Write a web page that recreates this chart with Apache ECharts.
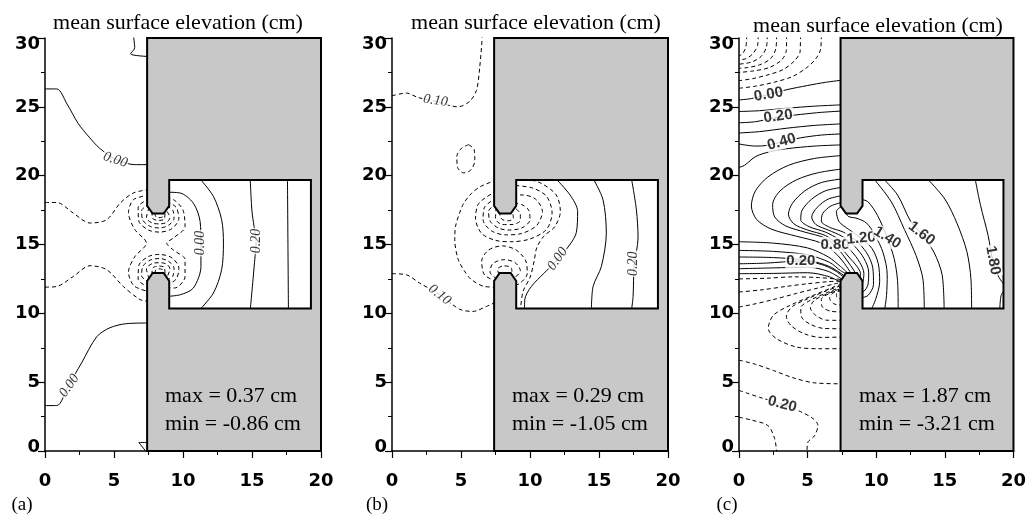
<!DOCTYPE html>
<html>
<head>
<meta charset="utf-8">
<script src="https://cdn.jsdelivr.net/npm/echarts/dist/echarts.min.js"></script>
<style>
html,body{margin:0;padding:0;background:#fff}
#chart{width:1029px;height:516px}
</style>
</head>
<body>
<div id="chart"></div>
<script>
// ---------- axes ----------
const X_TICKS = [0, 5, 10, 15, 20];
const Y_TICKS = [0, 5, 10, 15, 20, 25, 30];

// ---------- breakwater / harbour geometry (x, y in same units as axes) ----------
const STRUCTURE = [
  [7.4, 0], [20, 0], [20, 30], [7.4, 30], [7.4, 17.8], [7.8, 17.25], [8.6, 17.25], [9.0, 17.8],
  [9.0, 19.68], [19.27, 19.68], [19.27, 10.36], [9.0, 10.36], [9.0, 12.35], [8.6, 12.93],
  [7.8, 12.93], [7.4, 12.35]
];

// ---------- panel (a) ----------
const A_SOLID = [
  [[0,26.3],[0.85,26.3],[1.6,25.2],[2.4,23.8],[3.2,22.8],[3.95,22.0],[5.1,21.2],[6.5,20.8],[7.6,20.8]],
  [[6.4,30.2],[6.5,29.3],[6.2,28.85],[7.6,28.65]],
  [[7.6,9.3],[5.9,9.25],[4.7,8.95],[3.75,8.3],[2.65,6.4],[1.7,4.75],[0.85,3.3],[0,3.3]],
  [[7.6,0.62],[6.8,0.62],[7.45,-0.2]],
  [[8.8,18.8],[9.8,18.74],[10.75,18.0],[11.24,16.67],[11.3,15.1],[11.3,13.4],[10.75,11.84],[9.8,11.35],[8.8,11.23]],
  [[11.2,19.8],[12.2,18.5],[12.8,16.8],[12.93,15.1],[12.8,13.17],[12.2,11.47],[11.15,10.2]],
  [[14.87,19.8],[14.99,17.5],[15.15,16.3],[15.3,15.2],[15.2,13.9],[14.87,10.2]],
  [[17.57,19.8],[17.64,10.2]]
];
const A_DASHED = [
  [[0,18.05],[0.85,18.05],[2.05,17.28],[3.26,16.56],[4.47,16.8],[5.44,18.0],[6.4,18.74],[7.6,19.0]],
  [[0,11.9],[0.85,11.95],[2.05,12.68],[3.26,13.46],[4.47,13.17],[5.68,11.95],[6.89,11.0],[7.6,10.85]],
  [[7.6,18.6],[6.4,18.25],[6.05,17.3],[6.5,16.1],[7.35,15.1],[6.5,14.1],[6.05,13.0],[6.45,12.0],[7.6,11.55]],
  [[8.8,18.4],[9.4,18.2],[10.0,17.5],[10.15,16.3],[9.3,15.47],[8.82,15.1],[9.3,14.6],[10.15,13.9],[10.15,12.68],[9.4,11.84],[8.8,11.85]],
  [[7.6,18.35],[6.75,17.7],[6.8,16.7],[7.5,16.05],[8.3,15.9],[9.2,16.15],[9.7,16.9],[9.5,17.7],[8.8,18.15]],
  [[7.6,17.95],[7.0,17.45],[7.1,16.75],[7.65,16.3],[8.3,16.2],[8.95,16.4],[9.35,16.9],[9.25,17.5],[8.8,17.8]],
  [[7.55,17.7],[7.35,16.95],[7.8,16.55],[8.3,16.5],[8.8,16.6],[9.05,16.95],[8.75,17.55]],
  [[7.75,17.4],[7.8,16.9],[8.25,16.75],[8.65,16.85],[8.7,17.45]],
  [[7.95,17.3],[8.05,17.0],[8.35,16.95],[8.55,17.05],[8.55,17.3]],
  [[7.6,11.85],[6.75,12.48],[6.8,13.48],[7.5,14.13],[8.3,14.28],[9.2,14.03],[9.7,13.28],[9.5,12.48],[8.8,12.05]],
  [[7.6,12.25],[7.0,12.73],[7.1,13.43],[7.65,13.88],[8.3,13.98],[8.95,13.78],[9.35,13.28],[9.25,12.68],[8.8,12.4]],
  [[7.55,12.5],[7.35,13.23],[7.8,13.63],[8.3,13.68],[8.8,13.58],[9.05,13.23],[8.8,12.55]],
  [[7.75,12.8],[7.8,13.28],[8.25,13.43],[8.65,13.33],[8.7,12.7]],
  [[7.95,12.88],[8.05,13.18],[8.35,13.23],[8.55,13.13],[8.55,12.88]]
];
// contour labels: x, y, text, angle
const A_LABELS = [
  [5.1, 21.15, '0.00', -18],
  [11.25, 15.1, '0.00', 90],
  [15.3, 15.25, '0.20', 90],
  [1.75, 4.75, '0.00', 55]
];
const A_STATS = ['max = 0.37 cm', 'min = -0.86 cm'];

// ---------- panel (b) ----------
const B_SOLID = [
  [[11.85,19.8],[12.9,18.6],[13.45,17.4],[13.35,15.85],[12.6,14.6],[11.9,13.8],[11.0,12.9],[10.1,11.95],[9.62,11.0],[9.6,10.2]],
  [[14.57,19.8],[15.29,18.25],[15.53,15.83],[15.17,13.4],[14.57,11.95],[14.45,10.2]],
  [[17.35,19.8],[17.71,17.52],[17.83,15.47],[17.55,13.5],[17.47,11.23],[17.35,10.2]]
];
const B_DASHED = [
  [[0,25.8],[1.04,26.0],[1.88,25.68],[3.1,25.4],[4.78,25.0],[5.63,25.4],[6.12,26.2],[6.36,27.9],[6.55,30.2]],
  [[5.55,22.25],[5.95,21.9],[6.0,21.1],[5.7,20.4],[5.2,20.2],[4.75,20.6],[4.7,21.4],[5.05,22.0],[5.55,22.25]],
  [[0,12.88],[1.04,12.8],[2.0,12.2],[3.46,11.35],[4.9,10.3],[5.87,10.14],[6.84,10.5],[7.6,10.85]],
  [[7.6,19.7],[6.4,19.2],[5.75,18.7],[5.2,18.0],[4.9,17.3],[4.6,16.3],[4.55,15.35],[4.8,13.9],[5.3,13.0],[5.75,12.45],[6.7,11.95],[7.6,11.9]],
  [[7.6,18.9],[6.3,18.0],[6.05,16.9],[6.5,15.8],[7.5,15.3],[8.6,15.2],[10.0,15.4],[11.2,16.1],[11.6,17.3],[11.2,18.5],[10.2,19.1],[8.8,19.3]],
  [[7.6,18.4],[6.7,17.7],[6.6,16.8],[7.2,16.0],[8.2,15.7],[9.4,15.8],[10.5,16.4],[10.9,17.4],[10.4,18.3],[9.5,18.6],[8.8,18.6]],
  [[7.6,18.0],[7.0,17.4],[7.1,16.7],[7.7,16.2],[8.4,16.05],[9.4,16.2],[10.0,16.8],[9.9,17.5],[9.4,17.9],[8.8,18.0]],
  [[7.55,17.7],[7.5,16.9],[8.0,16.45],[8.7,16.45],[9.3,16.75],[9.3,17.2],[8.85,17.7]],
  [[7.75,17.4],[7.95,16.85],[8.4,16.72],[8.8,16.9],[8.72,17.45]],
  [[9.6,19.8],[10.8,19.45],[11.9,18.6],[12.2,17.4],[11.8,16.3],[11.0,15.6],[10.5,14.8],[10.3,13.8],[10.0,12.6],[9.5,11.6],[9.3,10.2]],
  [[7.6,12.3],[6.7,12.8],[6.5,13.8],[7.0,14.6],[8.0,14.9],[9.0,14.6],[9.7,13.8],[9.8,12.9],[9.3,12.2],[8.8,12.0]],
  [[7.6,12.5],[7.1,13.0],[7.3,13.6],[8.1,13.9],[8.9,13.7],[9.3,13.1],[8.8,12.5]],
  [[7.75,12.8],[7.65,13.2],[8.1,13.45],[8.65,13.3],[8.7,12.7]]
];
const B_LABELS = [
  [3.15, 25.45, '0.10', -8],
  [3.45, 11.35, '0.10', -38],
  [12.0, 13.95, '0.00', 55],
  [17.5, 13.6, '0.20', 90]
];
const B_STATS = ['max = 0.29 cm', 'min = -1.05 cm'];

// ---------- panel (c) ----------
const C_SOLID = [
  [[0,25.5],[0.9,25.6],[2.15,25.9],[3.5,26.25],[5.0,26.55],[6.3,26.78],[7.6,26.95]],
  [[0,24.66],[1.5,24.72],[3.5,24.9],[5.5,25.05],[7.6,25.15]],
  [[0,23.84],[1.2,23.92],[2.85,24.25],[4.5,24.45],[6.0,24.6],[7.6,24.7]],
  [[0,23.1],[1.5,23.2],[3.5,23.45],[5.5,23.65],[7.6,23.77]],
  [[0,22.3],[1.2,22.15],[2.1,22.2],[3.1,22.45],[4.5,22.75],[6.0,22.95],[7.6,23.04]],
  [[0,20.6],[0.4,20.75],[1.23,21.4],[2.3,21.75],[3.41,21.95],[5.5,22.15],[7.6,22.24]],
  [[0,12.88],[2.5,12.9],[5,12.95],[6.6,12.65],[7.5,12.2]],
  [[0,13.24],[2.5,13.3],[5,13.35],[6.5,13.05],[7.55,12.45]],
  [[0,13.6],[2.0,13.65],[4.5,13.8],[6.0,13.55],[7.0,13.1],[7.65,12.6]],
  [[0,14.09],[2.5,14.05],[5,13.85],[6.6,13.4],[7.7,12.7]],
  [[0,14.57],[2.5,14.5],[5,14.25],[6.6,13.7],[7.4,13.1],[7.85,12.85]],
  [[0,15.2],[2.5,15.1],[5,14.75],[6.5,14.1],[7.4,13.4],[8.0,12.85]],
  [[7.6,21.47],[5.5,21.25],[3.6,20.75],[2.1,19.9],[1.2,18.9],[0.9,17.8],[1.3,16.8],[2.4,16.1],[4.2,15.6],[6.0,15.1],[7.0,14.4],[7.7,13.6],[8.2,12.85]],
  [[7.6,20.5],[5.7,20.2],[4.2,19.7],[3.0,18.9],[2.45,17.9],[2.6,17.0],[3.4,16.35],[4.8,15.9],[6.3,15.45],[7.2,14.7],[7.9,13.8],[8.35,13.15],[8.5,12.85]],
  [[7.6,19.78],[6.0,19.5],[4.8,18.9],[3.9,18.0],[3.6,17.2],[4.0,16.5],[5.0,16.05],[6.3,15.65],[7.2,15.0],[8.0,14.1],[8.6,13.4],[8.85,12.9],[8.8,12.5]],
  [[7.6,19.17],[6.3,18.9],[5.3,18.3],[4.6,17.5],[4.5,16.8],[5.1,16.3],[6.3,15.9],[7.3,15.35],[8.2,14.5],[8.8,13.7],[9.1,12.9],[9.0,12.2],[8.8,12.1]],
  [[7.6,18.56],[6.5,18.3],[5.7,17.7],[5.3,17.0],[5.6,16.45],[6.5,16.05],[7.5,15.6],[8.4,14.9],[9.1,14.0],[9.45,13.0],[9.4,12.1],[9.1,11.6],[8.8,11.55]],
  [[7.6,18.08],[6.7,17.8],[6.1,17.25],[6.0,16.7],[6.6,16.25],[7.6,15.9],[8.5,15.3],[9.3,14.4],[9.75,13.3],[9.8,12.1],[9.4,11.3],[8.8,11.1]],
  [[7.6,17.85],[7.1,17.4],[7.3,16.65],[8.0,16.1],[8.9,15.45],[9.7,14.7],[10.15,13.6],[10.25,12.3],[9.95,11.0],[9.6,10.2]],
  [[7.75,17.5],[7.95,17.05],[8.6,16.9],[9.3,16.55],[9.9,15.7],[10.5,14.4],[10.8,12.8],[10.75,11.3],[10.6,10.2]],
  [[8.85,18.3],[9.4,18.1],[10.1,17.1],[10.8,15.5],[11.3,14.0],[11.55,12.4],[11.6,10.2]],
  [[9.8,19.8],[11.1,18.1],[12.05,16.1],[12.9,14.2],[13.4,12.5],[13.5,10.2]],
  [[10.5,19.8],[11.55,18.6],[12.5,16.7],[13.3,15.75],[14.2,14.45],[14.8,12.8],[14.95,10.2]],
  [[13.7,19.8],[15.0,18.3],[15.9,16.5],[16.6,14.5],[16.9,12.5],[16.95,10.2]],
  [[17.2,19.8],[17.6,17.84],[18.15,15.66],[18.5,13.8],[18.95,12.6],[19.4,12.0]],
  [[19.4,11.75],[19.1,11.3],[19.0,10.2]]
];
const C_DASHED = [
  [[6.0,30.2],[5.95,29.2],[5.6,28.5],[5.0,27.9],[3.9,27.2],[2.6,26.8],[1.2,26.5],[0,26.35]],
  [[4.48,30.2],[4.45,29.0],[4.0,28.3],[3.2,27.7],[2.2,27.35],[1.0,27.05],[0,26.9]],
  [[3.47,30.2],[3.45,29.1],[3.1,28.4],[2.2,27.85],[1.0,27.6],[0,27.5]],
  [[2.74,30.2],[2.7,29.3],[2.3,28.5],[1.5,28.05],[0.6,27.85],[0,27.8]],
  [[2.06,30.2],[2.0,29.35],[1.6,28.65],[0.9,28.25],[0,28.1]],
  [[1.4,30.2],[1.35,29.45],[1.0,28.85],[0.5,28.5],[0,28.4]],
  [[0.56,30.2],[0.5,29.35],[0.25,28.85],[0,28.7]],
  [[0,12.5],[2.0,12.55],[4.0,12.65],[5.8,12.6],[7.0,12.5],[7.6,12.45]],
  [[0,11.55],[1.6,11.7],[3.4,11.95],[5.0,12.15],[6.5,12.3],[7.55,12.35]],
  [[0,10.46],[1.0,10.65],[2.5,11.0],[4.2,11.45],[5.8,11.85],[7.0,12.15],[7.55,12.25]],
  [[7.6,7.43],[5.9,7.43],[4.2,7.55],[2.75,8.15],[2.13,8.9],[2.5,9.85],[3.7,10.57],[5.4,11.3],[7.0,11.95],[7.55,12.15]],
  [[7.6,8.28],[6.0,8.25],[4.8,8.5],[3.8,9.1],[3.45,9.8],[3.9,10.5],[5.0,11.05],[6.4,11.65],[7.55,12.05]],
  [[7.6,8.88],[6.2,8.9],[5.2,9.2],[4.55,9.75],[4.5,10.4],[5.2,10.95],[6.4,11.5],[7.55,11.95]],
  [[7.6,9.49],[6.4,9.5],[5.6,9.85],[5.2,10.4],[5.5,10.95],[6.5,11.45],[7.55,11.85]],
  [[7.6,10.1],[6.7,10.15],[6.05,10.5],[6.0,11.0],[6.6,11.45],[7.55,11.75]],
  [[7.6,10.57],[6.9,10.7],[6.6,11.1],[6.9,11.5],[7.55,11.65]],
  [[7.6,11.0],[7.15,11.15],[7.1,11.4],[7.6,11.55]],
  [[0,6.6],[1.2,6.3],[2.5,5.85],[4.0,5.3],[5.5,4.95],[7.6,4.88]],
  [[0,4.4],[0.6,4.2],[1.5,3.9],[3.15,3.4],[4.5,2.85],[5.4,2.35],[5.75,1.85],[5.5,1.1],[5.0,0.6],[4.95,-0.2]],
  [[0,2.45],[0.9,2.25],[2.1,1.85],[2.6,0.9],[2.75,-0.2]]
];
const C_LABELS = [
  [2.15, 25.9, '0.00', 10],
  [2.85, 24.3, '0.20', 8],
  [3.1, 22.45, '0.40', 16],
  [4.5, 13.8, '0.20', 0],
  [7.0, 15.0, '0.80', 0],
  [8.9, 15.45, '1.20', 5],
  [10.8, 15.5, '1.40', -32],
  [13.3, 15.8, '1.60', -38],
  [18.5, 13.85, '1.80', -80],
  [3.15, 3.4, '0.20', -15]
];
const C_STATS = ['max = 1.87 cm', 'min = -3.21 cm'];

const PANEL_TAGS = ['(a)', '(b)', '(c)'];
const TITLE = 'mean surface elevation (cm)';

// ---------- layout ----------
const GRID_LEFT = [45, 392, 739];
const GRID_TOP = 38, GRID_W = 276, GRID_H = 413;
const TITLE_X = [178, 536, 878];
const TITLE_Y = [23, 23, 26];
const TAG_X = [22, 377, 727];

const panels = [
  { solid: A_SOLID, dashed: A_DASHED, labels: A_LABELS, stats: A_STATS, serif: true },
  { solid: B_SOLID, dashed: B_DASHED, labels: B_LABELS, stats: B_STATS, serif: true },
  { solid: C_SOLID, dashed: C_DASHED, labels: C_LABELS, stats: C_STATS, serif: false }
];

const tickFont = { fontFamily: 'DejaVu Sans', fontWeight: 'bold', fontSize: 18, color: '#000' };

const grids = [], xAxes = [], yAxes = [], series = [], graphics = [];

panels.forEach((p, i) => {
  grids.push({ left: GRID_LEFT[i], top: GRID_TOP, width: GRID_W, height: GRID_H, containLabel: false });
  const axisCommon = {
    gridIndex: i, type: 'value',
    axisLine: { show: true, onZero: false, lineStyle: { color: '#000', width: 1.5 } },
    splitLine: { show: false },
    minorTick: { show: true, splitNumber: 2, length: 4, lineStyle: { color: '#000', width: 1 } },
    axisTick: { show: true, inside: false, length: 7, lineStyle: { color: '#000', width: 1.2 } }
  };
  xAxes.push(Object.assign({}, axisCommon, {
    min: X_TICKS[0], max: X_TICKS[X_TICKS.length - 1], interval: X_TICKS[1] - X_TICKS[0],
    axisLabel: Object.assign({ margin: 21 }, tickFont)
  }));
  const yMin = Y_TICKS[0], yMax = Y_TICKS[Y_TICKS.length - 1];
  yAxes.push(Object.assign({}, axisCommon, {
    min: yMin, max: yMax, interval: Y_TICKS[1] - Y_TICKS[0],
    axisLabel: {
      margin: 5,
      formatter: v => v === yMin ? '{lo|' + v + '}' : (v === yMax ? '{hi|' + v + '}' : '{n|' + v + '}'),
      rich: {
        n: Object.assign({}, tickFont),
        lo: Object.assign({ padding: [0, 0, 8, 0] }, tickFont),
        hi: Object.assign({ padding: [12, 0, 0, 0] }, tickFont)
      }
    }
  }));

  const lineBase = {
    type: 'line', xAxisIndex: i, yAxisIndex: i, smooth: 0.3, symbol: 'none',
    silent: true, animation: false, clip: true, z: 2
  };
  p.solid.forEach(pts => series.push(Object.assign({}, lineBase, {
    data: pts, lineStyle: { color: '#000', width: 1 }
  })));
  p.dashed.forEach(pts => series.push(Object.assign({}, lineBase, {
    data: pts, lineStyle: { color: '#000', width: 1, type: [4, 3] }
  })));

  // breakwater and harbour walls
  series.push({
    type: 'custom', xAxisIndex: i, yAxisIndex: i, silent: true, animation: false, z: 5,
    data: [[0, 0]],
    renderItem: (params, api) => ({
      type: 'polygon',
      shape: { points: STRUCTURE.map(pt => api.coord(pt)) },
      style: { fill: '#c8c8c8', stroke: '#000', lineWidth: 2 }
    })
  });

  // contour labels
  series.push({
    type: 'scatter', xAxisIndex: i, yAxisIndex: i, symbolSize: 0, silent: true, animation: false, z: 8,
    data: p.labels.map(l => ({
      value: [l[0], l[1]],
      label: { formatter: l[2], rotate: l[3] }
    })),
    label: {
      show: true, position: 'inside', color: '#000', backgroundColor: '#fff', padding: [0, 1],
      fontFamily: p.serif ? 'Liberation Serif' : 'Liberation Sans',
      fontWeight: p.serif ? 'normal' : 'bold',
      fontStyle: p.serif ? 'italic' : 'normal',
      fontSize: p.serif ? 14 : 15
    }
  });

  graphics.push({
    type: 'text', x: TITLE_X[i], y: TITLE_Y[i], silent: true,
    style: { text: TITLE, font: '22px "Liberation Serif"', fill: '#000', textAlign: 'center', textVerticalAlign: 'middle' }
  });
  graphics.push({
    type: 'text', x: TAG_X[i], y: 505, silent: true,
    style: { text: PANEL_TAGS[i], font: '19px "Liberation Serif"', fill: '#000', textAlign: 'center', textVerticalAlign: 'middle' }
  });
  p.stats.forEach((s, k) => graphics.push({
    type: 'text', x: GRID_LEFT[i] + 120, y: 396 + k * 28, silent: true, z: 20,
    style: { text: s, font: '22px "Liberation Serif"', fill: '#000', textAlign: 'left', textVerticalAlign: 'middle' }
  }));
});

const chart = echarts.init(document.getElementById('chart'), null, { renderer: 'canvas' });
chart.setOption({
  backgroundColor: '#fff',
  animation: false,
  grid: grids,
  xAxis: xAxes,
  yAxis: yAxes,
  series: series,
  graphic: graphics
});
</script>
</body>
</html>
